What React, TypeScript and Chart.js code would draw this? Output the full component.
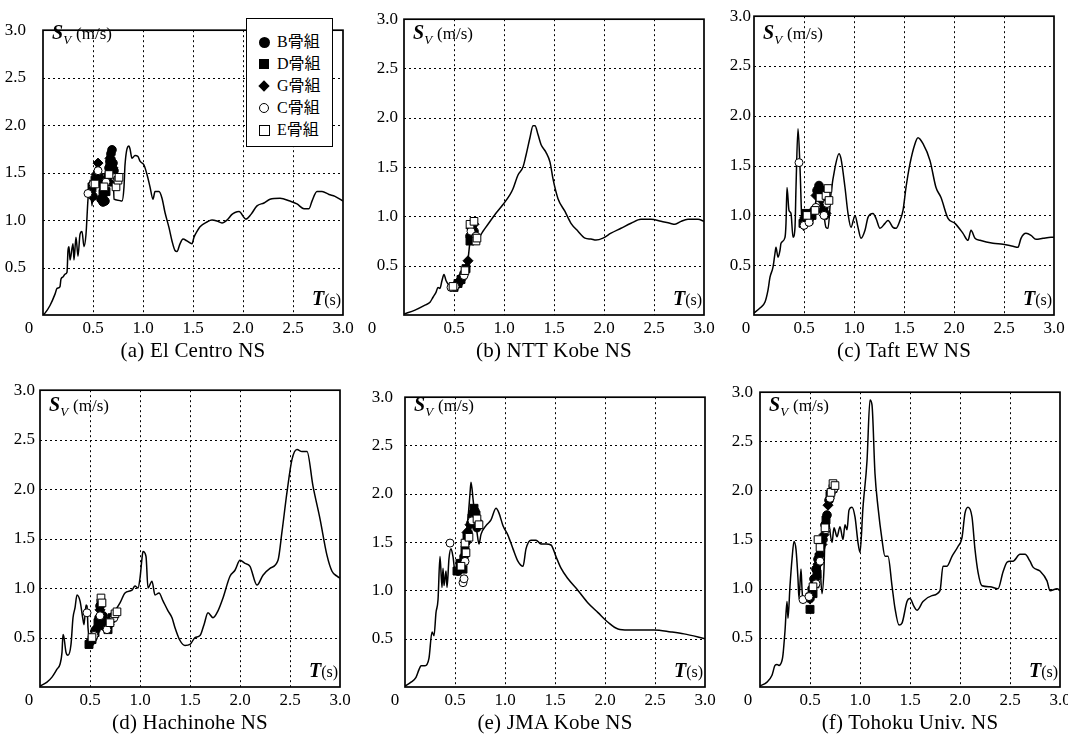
import React, { useEffect, useRef } from 'react';
import { Chart, registerables } from 'chart.js';

Chart.register(...registerables);

type Pt = [number, number];

// ---- tick labels / names ----
const tickValues = [0, 0.5, 1.0, 1.5, 2.0, 2.5, 3.0];
const tickLabels = ['0', '0.5', '1.0', '1.5', '2.0', '2.5', '3.0'];
const frameNames = ['B骨組', 'D骨組', 'G骨組', 'C骨組', 'E骨組'];
const captions = [
  '(a) El Centro NS',
  '(b) NTT Kobe NS',
  '(c) Taft EW NS',
  '(d) Hachinohe NS',
  '(e) JMA Kobe NS',
  '(f) Tohoku Univ. NS',
];

// ---- spectrum curves (T [s], Sv [m/s]) ----
const curveElCentro: Pt[] = [[0,0],[0.02,0.02],[0.07,0.1],[0.12,0.22],[0.14,0.28],[0.17,0.3],[0.18,0.38],[0.2,0.4],[0.22,0.43],[0.24,0.45],[0.25,0.68],[0.26,0.72],[0.27,0.58],[0.3,0.75],[0.31,0.58],[0.33,0.82],[0.35,0.62],[0.37,0.85],[0.39,0.88],[0.41,0.72],[0.43,0.85],[0.45,1.22],[0.47,1.42],[0.49,1.15],[0.51,1.45],[0.54,1.58],[0.56,1.62],[0.57,1.28],[0.59,1.45],[0.61,1.3],[0.63,1.58],[0.65,1.72],[0.67,1.75],[0.7,1.62],[0.71,1.22],[0.75,1.21],[0.79,1.2],[0.81,1.35],[0.82,1.58],[0.86,1.78],[0.87,1.75],[0.89,1.65],[0.92,1.68],[0.95,1.67],[0.97,1.62],[1.01,1.58],[1.04,1.48],[1.07,1.35],[1.1,1.22],[1.12,1.3],[1.16,1.3],[1.19,1.23],[1.22,1.08],[1.26,0.92],[1.29,0.78],[1.32,0.68],[1.34,0.67],[1.37,0.75],[1.4,0.8],[1.44,0.78],[1.49,0.75],[1.51,0.82],[1.54,0.88],[1.57,0.93],[1.64,0.98],[1.69,1.0],[1.74,0.99],[1.79,0.97],[1.84,1.0],[1.89,1.06],[1.92,1.08],[1.96,1.09],[2.03,1.01],[2.08,1.06],[2.14,1.15],[2.21,1.18],[2.27,1.22],[2.37,1.23],[2.47,1.2],[2.54,1.17],[2.61,1.12],[2.66,1.12],[2.69,1.2],[2.74,1.3],[2.79,1.3],[2.86,1.27],[2.92,1.25],[3.0,1.2]];
const curveNttKobe: Pt[] = [[0,0.01],[0.11,0.05],[0.21,0.1],[0.26,0.13],[0.29,0.18],[0.32,0.23],[0.34,0.28],[0.36,0.27],[0.38,0.35],[0.4,0.41],[0.42,0.35],[0.45,0.3],[0.47,0.28],[0.51,0.28],[0.54,0.32],[0.57,0.37],[0.61,0.42],[0.62,0.52],[0.64,0.57],[0.66,0.75],[0.67,0.82],[0.69,0.9],[0.71,0.85],[0.74,0.78],[0.79,0.85],[0.84,0.92],[0.91,1.02],[0.99,1.12],[1.06,1.22],[1.09,1.28],[1.14,1.42],[1.19,1.5],[1.22,1.62],[1.26,1.8],[1.29,1.92],[1.31,1.92],[1.34,1.83],[1.37,1.73],[1.42,1.65],[1.46,1.55],[1.49,1.38],[1.54,1.18],[1.61,1.05],[1.67,0.93],[1.74,0.85],[1.81,0.78],[1.87,0.77],[1.92,0.76],[1.99,0.78],[2.07,0.83],[2.17,0.88],[2.27,0.93],[2.37,0.97],[2.47,0.97],[2.57,0.95],[2.66,0.93],[2.71,0.92],[2.77,0.95],[2.84,0.97],[2.94,0.97],[3.0,0.95]];
const curveTaft: Pt[] = [[0,0.02],[0.06,0.07],[0.11,0.13],[0.14,0.25],[0.16,0.38],[0.19,0.48],[0.21,0.62],[0.22,0.68],[0.24,0.58],[0.26,0.65],[0.27,0.72],[0.31,0.78],[0.32,0.92],[0.33,1.28],[0.35,1.05],[0.37,1.02],[0.39,0.78],[0.41,0.88],[0.42,1.28],[0.44,1.87],[0.46,1.48],[0.48,0.92],[0.5,0.85],[0.52,1.02],[0.55,0.95],[0.59,0.95],[0.62,1.15],[0.66,1.28],[0.69,1.08],[0.72,0.88],[0.74,0.87],[0.77,1.22],[0.81,1.48],[0.85,1.62],[0.87,1.57],[0.91,1.28],[0.94,1.02],[0.97,0.88],[1.01,1.0],[1.04,0.88],[1.07,0.77],[1.11,0.85],[1.14,0.98],[1.19,1.02],[1.22,0.97],[1.26,0.87],[1.31,0.92],[1.34,0.95],[1.39,0.88],[1.42,0.87],[1.46,0.95],[1.49,1.05],[1.52,1.28],[1.56,1.52],[1.61,1.72],[1.64,1.78],[1.69,1.72],[1.76,1.55],[1.82,1.28],[1.87,1.18],[1.94,0.97],[2.01,0.92],[2.09,0.82],[2.14,0.75],[2.17,0.85],[2.21,0.77],[2.26,0.75],[2.39,0.72],[2.49,0.71],[2.59,0.69],[2.64,0.68],[2.67,0.77],[2.72,0.82],[2.77,0.8],[2.82,0.76],[2.89,0.77],[2.97,0.78],[3.0,0.78]];
const curveHachinohe: Pt[] = [[0,0.01],[0.07,0.05],[0.12,0.1],[0.17,0.18],[0.2,0.23],[0.22,0.35],[0.23,0.53],[0.24,0.5],[0.26,0.35],[0.28,0.32],[0.31,0.43],[0.33,0.7],[0.35,0.8],[0.37,0.93],[0.4,0.87],[0.43,0.68],[0.44,0.63],[0.46,0.83],[0.47,0.82],[0.48,0.6],[0.5,0.47],[0.53,0.55],[0.56,0.5],[0.6,0.9],[0.62,0.75],[0.65,0.6],[0.67,0.58],[0.7,0.7],[0.75,0.77],[0.8,0.85],[0.85,0.95],[0.92,0.98],[0.95,1.02],[0.98,1.0],[1.0,1.1],[1.02,1.3],[1.03,1.37],[1.06,1.32],[1.08,1.0],[1.12,1.07],[1.15,0.93],[1.19,0.95],[1.23,0.87],[1.28,0.77],[1.32,0.7],[1.35,0.6],[1.4,0.47],[1.45,0.42],[1.5,0.43],[1.55,0.5],[1.6,0.52],[1.64,0.63],[1.68,0.75],[1.73,0.7],[1.78,0.77],[1.83,0.9],[1.9,1.12],[1.95,1.18],[2.0,1.28],[2.05,1.25],[2.1,1.22],[2.17,1.03],[2.23,1.13],[2.3,1.2],[2.38,1.28],[2.42,1.57],[2.47,1.97],[2.52,2.3],[2.57,2.4],[2.62,2.38],[2.67,2.38],[2.73,2.03],[2.8,1.7],[2.87,1.33],[2.92,1.17],[2.97,1.12],[3.0,1.1]];
const curveJmaKobe: Pt[] = [[0,0.01],[0.06,0.05],[0.11,0.1],[0.14,0.18],[0.16,0.22],[0.2,0.22],[0.24,0.3],[0.27,0.57],[0.29,0.53],[0.31,0.77],[0.33,0.9],[0.35,1.35],[0.37,1.03],[0.38,1.23],[0.39,1.05],[0.41,1.2],[0.42,1.03],[0.44,1.33],[0.46,1.43],[0.48,1.35],[0.5,1.2],[0.55,1.25],[0.58,1.3],[0.6,1.5],[0.63,1.75],[0.65,2.0],[0.66,2.12],[0.68,1.95],[0.7,1.75],[0.72,1.6],[0.74,1.48],[0.76,1.58],[0.81,1.67],[0.86,1.73],[0.91,1.85],[0.94,1.8],[0.98,1.67],[1.03,1.57],[1.08,1.43],[1.13,1.3],[1.18,1.25],[1.21,1.43],[1.26,1.52],[1.31,1.52],[1.36,1.48],[1.41,1.48],[1.46,1.47],[1.51,1.35],[1.56,1.23],[1.63,1.12],[1.73,1.0],[1.83,0.87],[1.93,0.77],[2.03,0.67],[2.13,0.6],[2.23,0.59],[2.36,0.59],[2.49,0.59],[2.66,0.57],[2.79,0.55],[3.0,0.5]];
const curveTohoku: Pt[] = [[0,0.01],[0.07,0.05],[0.12,0.12],[0.15,0.22],[0.17,0.23],[0.19,0.22],[0.22,0.27],[0.23,0.33],[0.25,0.57],[0.27,0.87],[0.28,0.7],[0.3,1.03],[0.32,1.3],[0.34,1.48],[0.36,1.4],[0.38,1.1],[0.39,0.9],[0.41,1.2],[0.42,1.0],[0.43,0.87],[0.47,0.93],[0.5,0.85],[0.53,1.0],[0.56,1.2],[0.58,1.5],[0.6,1.25],[0.62,0.95],[0.64,1.2],[0.65,1.53],[0.68,1.7],[0.72,1.47],[0.74,1.62],[0.77,1.53],[0.8,1.63],[0.83,1.5],[0.85,1.65],[0.87,1.6],[0.89,1.8],[0.92,1.83],[0.95,1.73],[0.98,1.47],[1.0,1.37],[1.03,1.83],[1.07,2.3],[1.1,2.92],[1.12,2.87],[1.15,2.17],[1.18,1.83],[1.22,1.5],[1.25,1.33],[1.28,1.33],[1.32,1.03],[1.35,0.8],[1.39,0.63],[1.42,0.65],[1.47,0.87],[1.5,0.9],[1.54,0.82],[1.57,0.78],[1.63,0.87],[1.72,0.93],[1.8,0.98],[1.83,1.23],[1.87,1.23],[1.92,1.33],[1.98,1.43],[2.02,1.52],[2.05,1.77],[2.08,1.83],[2.12,1.73],[2.15,1.4],[2.18,1.17],[2.22,1.03],[2.3,1.02],[2.38,1.0],[2.43,1.17],[2.47,1.27],[2.5,1.28],[2.53,1.28],[2.6,1.35],[2.65,1.35],[2.7,1.28],[2.73,1.22],[2.8,1.18],[2.87,1.08],[2.9,0.98],[2.97,1.0],[3.0,0.98]];

// ---- frame response points (T, Sv) per record: B, D, G, C, E ----
const elCentroB: Pt[] = [[0.5,1.25],[0.53,1.4],[0.58,1.22],[0.6,1.19],[0.62,1.2],[0.66,1.55],[0.67,1.62],[0.68,1.7],[0.69,1.74],[0.7,1.6],[0.71,1.52],[0.72,1.45]];
const elCentroD: Pt[] = [[0.49,1.35],[0.52,1.42],[0.56,1.45],[0.6,1.28],[0.63,1.3],[0.65,1.45],[0.68,1.62],[0.7,1.5],[0.69,1.4]];
const elCentroG: Pt[] = [[0.48,1.3],[0.53,1.48],[0.55,1.6],[0.59,1.42],[0.67,1.65],[0.7,1.55]];
const elCentroC: Pt[] = [[0.45,1.28],[0.5,1.38],[0.55,1.52],[0.63,1.4],[0.72,1.45],[0.74,1.42]];
const elCentroE: Pt[] = [[0.52,1.38],[0.61,1.35],[0.66,1.48],[0.73,1.35],[0.75,1.42],[0.76,1.45]];

const nttKobeB: Pt[] = [[0.52,0.3],[0.55,0.33],[0.58,0.38],[0.6,0.42],[0.66,0.8],[0.68,0.9],[0.7,0.85]];
const nttKobeD: Pt[] = [[0.5,0.28],[0.54,0.32],[0.57,0.36],[0.62,0.47],[0.66,0.75],[0.68,0.82],[0.71,0.78]];
const nttKobeG: Pt[] = [[0.53,0.31],[0.56,0.35],[0.64,0.55],[0.67,0.88],[0.7,0.92]];
const nttKobeC: Pt[] = [[0.47,0.28],[0.51,0.29],[0.6,0.4],[0.67,0.85],[0.72,0.8]];
const nttKobeE: Pt[] = [[0.49,0.29],[0.61,0.45],[0.66,0.92],[0.7,0.95],[0.72,0.75],[0.73,0.78]];

const taftB: Pt[] = [[0.5,0.95],[0.53,1.0],[0.56,0.98],[0.6,1.05],[0.63,1.25],[0.65,1.3],[0.67,1.2],[0.69,1.05],[0.71,1.0]];
const taftD: Pt[] = [[0.49,0.92],[0.52,1.02],[0.55,0.95],[0.58,1.0],[0.64,1.22],[0.66,1.25],[0.7,1.1]];
const taftG: Pt[] = [[0.51,0.98],[0.57,1.02],[0.62,1.2],[0.65,1.28],[0.68,1.15],[0.72,1.02]];
const taftC: Pt[] = [[0.45,1.53],[0.5,0.9],[0.55,0.93],[0.62,1.08],[0.7,1.0],[0.73,1.12]];
const taftE: Pt[] = [[0.53,1.0],[0.61,1.05],[0.66,1.18],[0.72,1.2],[0.74,1.27],[0.75,1.15]];

const hachinoheB: Pt[] = [[0.5,0.45],[0.53,0.5],[0.56,0.58],[0.59,0.7],[0.6,0.82],[0.63,0.72],[0.66,0.6],[0.68,0.62],[0.71,0.68]];
const hachinoheD: Pt[] = [[0.49,0.43],[0.52,0.48],[0.55,0.55],[0.58,0.65],[0.61,0.85],[0.65,0.62],[0.68,0.58],[0.72,0.7]];
const hachinoheG: Pt[] = [[0.51,0.47],[0.57,0.6],[0.6,0.78],[0.64,0.68],[0.69,0.63],[0.73,0.72]];
const hachinoheC: Pt[] = [[0.47,0.75],[0.54,0.52],[0.6,0.72],[0.67,0.58],[0.74,0.7]];
const hachinoheE: Pt[] = [[0.52,0.5],[0.61,0.9],[0.62,0.85],[0.7,0.65],[0.75,0.74],[0.77,0.76]];

const jmaKobeB: Pt[] = [[0.53,1.2],[0.56,1.25],[0.59,1.35],[0.61,1.5],[0.63,1.6],[0.66,1.7],[0.68,1.8],[0.7,1.82],[0.72,1.65]];
const jmaKobeD: Pt[] = [[0.52,1.2],[0.55,1.28],[0.58,1.22],[0.6,1.42],[0.62,1.55],[0.67,1.75],[0.69,1.85],[0.71,1.78]];
const jmaKobeG: Pt[] = [[0.54,1.22],[0.57,1.3],[0.62,1.6],[0.65,1.68],[0.69,1.78],[0.72,1.72]];
const jmaKobeC: Pt[] = [[0.45,1.49],[0.58,1.08],[0.59,1.12],[0.6,1.3],[0.67,1.72],[0.73,1.7]];
const jmaKobeE: Pt[] = [[0.56,1.25],[0.6,1.49],[0.61,1.39],[0.64,1.55],[0.72,1.74],[0.74,1.68]];

const tohokuB: Pt[] = [[0.5,0.9],[0.52,1.0],[0.54,1.1],[0.56,1.2],[0.58,1.3],[0.6,1.35],[0.63,1.5],[0.65,1.65],[0.67,1.75],[0.69,1.9],[0.71,1.98]];
const tohokuD: Pt[] = [[0.5,0.79],[0.53,0.95],[0.55,1.05],[0.57,1.15],[0.59,1.32],[0.61,1.45],[0.66,1.7],[0.7,1.95],[0.73,2.02]];
const tohokuG: Pt[] = [[0.51,0.95],[0.55,1.1],[0.58,1.25],[0.62,1.45],[0.64,1.55],[0.68,1.85],[0.72,2.0]];
const tohokuC: Pt[] = [[0.43,0.89],[0.49,0.92],[0.56,1.05],[0.6,1.28],[0.66,1.6],[0.7,1.92],[0.74,2.02]];
const tohokuE: Pt[] = [[0.53,1.02],[0.58,1.5],[0.6,1.42],[0.65,1.62],[0.71,1.98],[0.73,2.07],[0.75,2.05]];

const curves: Pt[][] = [curveElCentro, curveNttKobe, curveTaft, curveHachinohe, curveJmaKobe, curveTohoku];
const points: Pt[][][] = [
  [elCentroB, elCentroD, elCentroG, elCentroC, elCentroE],
  [nttKobeB, nttKobeD, nttKobeG, nttKobeC, nttKobeE],
  [taftB, taftD, taftG, taftC, taftE],
  [hachinoheB, hachinoheD, hachinoheG, hachinoheC, hachinoheE],
  [jmaKobeB, jmaKobeD, jmaKobeG, jmaKobeC, jmaKobeE],
  [tohokuB, tohokuD, tohokuG, tohokuC, tohokuE],
];

// ---- layout (pixel boxes of each plot area) ----
const panelBoxes = [
  { left: 43, top: 15, yPad: 17, zeroDx: -14 },
  { left: 404, top: 15, yPad: 6, zeroDx: -32 },
  { left: 754, top: 15, yPad: 3, zeroDx: -8 },
  { left: 40, top: 387, yPad: 5, zeroDx: -11 },
  { left: 405, top: 387, yPad: 12, zeroDx: -10 },
  { left: 760, top: 387, yPad: 7, zeroDx: -12 },
];
const AXW = 45;
const PADT = 12;
const PADR = 20;
const AXH = 28;
const PLOT = 300;

const seriesStyles = [
  { style: 'circle', r: 4.3, fill: '#000' },
  { style: 'rect', r: 5.6, fill: '#000' },
  { style: 'rectRot', r: 5.0, fill: '#000' },
  { style: 'circle', r: 4.0, fill: '#fff' },
  { style: 'rect', r: 5.4, fill: '#fff' },
];

const SERIF = '"Liberation Serif", "Times New Roman", "Noto Sans CJK JP", serif';

// dotted grid drawn at the scales' tick positions
const dottedGridPlugin = {
  id: 'dottedGrid',
  beforeDatasetsDraw(chart: any) {
    const { ctx, chartArea: a, scales } = chart;
    const xs = scales.x;
    const ys = scales.y;
    ctx.save();
    ctx.strokeStyle = '#000';
    ctx.lineWidth = 1;
    ctx.setLineDash([2, 3]);
    xs.ticks.forEach((t: any) => {
      const px = Math.round(xs.getPixelForValue(t.value)) + 0.5;
      if (px <= a.left + 1 || px >= a.right - 1) return;
      ctx.beginPath();
      ctx.moveTo(px, a.top);
      ctx.lineTo(px, a.bottom);
      ctx.stroke();
    });
    ys.ticks.forEach((t: any) => {
      const py = Math.round(ys.getPixelForValue(t.value)) + 0.5;
      if (py <= a.top + 1 || py >= a.bottom - 1) return;
      ctx.beginPath();
      ctx.moveTo(a.left, py);
      ctx.lineTo(a.right, py);
      ctx.stroke();
    });
    ctx.restore();
  },
};

const framePlugin = {
  id: 'frame',
  afterDatasetsDraw(chart: any) {
    const { ctx, chartArea: a } = chart;
    ctx.save();
    ctx.strokeStyle = '#000';
    ctx.lineWidth = 1.7;
    ctx.strokeRect(a.left, a.top, a.right - a.left, a.bottom - a.top);
    ctx.restore();
  },
};

function labelFor(v: number) {
  const i = tickValues.findIndex((t) => Math.abs(t - v) < 1e-6);
  return i > 0 ? tickLabels[i] : '';
}

function PanelChart({ idx }: { idx: number }) {
  const ref = useRef<HTMLCanvasElement>(null);
  const box = panelBoxes[idx];
  const W = AXW + PLOT + PADR;
  const H = PADT + PLOT + AXH;
  useEffect(() => {
    if (!ref.current) return;
    const datasets: any[] = [
      {
        type: 'line',
        label: 'Sv',
        data: curves[idx].map(([x, y]) => ({ x, y })),
        borderColor: '#000',
        borderWidth: 1.5,
        pointRadius: 0,
        fill: false,
        cubicInterpolationMode: 'monotone',
        order: 10,
      },
      ...seriesStyles.map((s, k) => ({
        type: 'scatter',
        label: frameNames[k],
        data: points[idx][k].map(([x, y]) => ({ x, y })),
        pointStyle: s.style,
        pointRadius: s.r,
        backgroundColor: s.fill,
        borderColor: '#000',
        borderWidth: 1,
        showLine: false,
        order: 5 - k,
      })),
    ];
    const tickFont = { family: SERIF, size: 17 };
    const chart = new Chart(ref.current, {
      type: 'scatter',
      data: { datasets },
      options: {
        responsive: false,
        animation: false,
        devicePixelRatio: 1,
        layout: { padding: { top: PADT, right: PADR, left: 0, bottom: 0 } },
        plugins: { legend: { display: false }, tooltip: { enabled: false } },
        scales: {
          x: {
            type: 'linear',
            min: 0,
            max: 3,
            afterBuildTicks: (s: any) => {
              s.ticks = tickValues.map((v) => ({ value: v }));
            },
            afterFit: (s: any) => {
              s.height = AXH;
            },
            ticks: {
              autoSkip: false,
              maxRotation: 0,
              padding: 3,
              color: '#000',
              font: tickFont,
              callback: (v: any) => labelFor(Number(v)),
            },
            grid: { display: false, drawTicks: false },
            border: { display: false },
          },
          y: {
            type: 'linear',
            min: 0,
            max: 3,
            afterBuildTicks: (s: any) => {
              s.ticks = tickValues.map((v) => ({ value: v }));
            },
            afterFit: (s: any) => {
              s.width = AXW;
            },
            ticks: {
              autoSkip: false,
              padding: box.yPad,
              color: '#000',
              font: tickFont,
              callback: (v: any) => labelFor(Number(v)),
            },
            grid: { display: false, drawTicks: false },
            border: { display: false },
          },
        },
      } as any,
      plugins: [dottedGridPlugin, framePlugin],
    });
    return () => chart.destroy();
  }, [idx]);

  return (
    <div style={{ position: 'absolute', left: box.left - AXW, top: box.top - PADT, width: W, height: H }}>
      <canvas ref={ref} width={W} height={H} style={{ width: W, height: H, display: 'block' }} />
    </div>
  );
}

function Marker({ k }: { k: number }) {
  const base: React.CSSProperties = { position: 'absolute', boxSizing: 'border-box' };
  if (k === 0) return <span style={{ ...base, left: -5.5, top: -5.5, width: 11, height: 11, borderRadius: '50%', background: '#000' }} />;
  if (k === 1) return <span style={{ ...base, left: -5, top: -5, width: 10, height: 10, background: '#000' }} />;
  if (k === 2) return <span style={{ ...base, left: -4, top: -4, width: 8, height: 8, background: '#000', transform: 'rotate(45deg)' }} />;
  if (k === 3) return <span style={{ ...base, left: -5, top: -5, width: 10, height: 10, borderRadius: '50%', border: '1px solid #000', background: '#fff' }} />;
  return <span style={{ ...base, left: -5.5, top: -5.5, width: 11, height: 11, border: '1px solid #000', background: '#fff' }} />;
}

function Legend({ left, top }: { left: number; top: number }) {
  return (
    <div style={{ position: 'absolute', left, top, width: 87, height: 129, border: '1px solid #000', boxSizing: 'border-box', background: '#fff' }}>
      {frameNames.map((n, k) => (
        <div key={n} style={{ position: 'absolute', left: 0, top: 23 + 22 * k, width: 87, height: 0 }}>
          <div style={{ position: 'absolute', left: 17, top: 0 }}>
            <Marker k={k} />
          </div>
          <div style={{ position: 'absolute', left: 30, top: -9, fontSize: 16, lineHeight: '18px', whiteSpace: 'nowrap', fontFamily: SERIF }}>{n}</div>
        </div>
      ))}
    </div>
  );
}

function Overlay({ idx }: { idx: number }) {
  const b = panelBoxes[idx];
  return (
    <>
      <div style={{ position: 'absolute', left: b.left + 9, top: b.top + 6.5, fontSize: 20, lineHeight: '20px', whiteSpace: 'nowrap', fontFamily: SERIF }}>
        <b><i>S</i></b>
        <i style={{ fontSize: 13, position: 'relative', top: 5 }}>V</i>
        <span style={{ fontSize: 17, marginLeft: 5 }}>(m/s)</span>
      </div>
      <div style={{ position: 'absolute', left: b.left + 269, top: b.top + 273, fontSize: 20, lineHeight: '20px', whiteSpace: 'nowrap', fontFamily: SERIF }}>
        <b><i>T</i></b>
        <span style={{ fontSize: 16 }}>(s)</span>
      </div>
      <div style={{ position: 'absolute', left: b.left + b.zeroDx - 10, width: 20, textAlign: 'center', top: b.top + PLOT + 3, fontSize: 17, lineHeight: '20px', fontFamily: SERIF }}>0</div>
      <div style={{ position: 'absolute', left: b.left, width: PLOT, textAlign: 'center', top: b.top + 323, fontSize: 21, lineHeight: '24px', letterSpacing: 0.2, whiteSpace: 'nowrap', fontFamily: SERIF }}>
        {captions[idx]}
      </div>
      {idx === 0 && <Legend left={b.left + 203} top={b.top + 3} />}
    </>
  );
}

export default function App() {
  return (
    <div style={{ position: 'absolute', left: 0, top: 0, width: 1068, height: 742, background: '#fff', overflow: 'hidden', color: '#000' }}>
      {curves.map((_, i) => (
        <PanelChart key={'c' + i} idx={i} />
      ))}
      {curves.map((_, i) => (
        <Overlay key={'o' + i} idx={i} />
      ))}
    </div>
  );
}
